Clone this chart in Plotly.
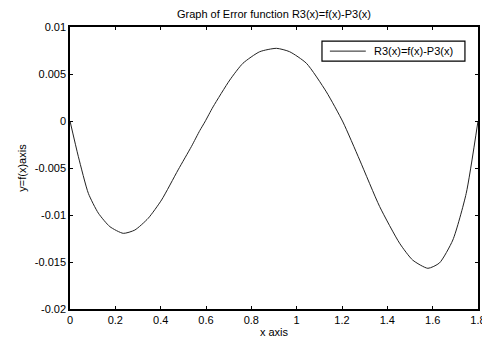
import plotly.graph_objects as go

x_vals = [0.0, 0.037, 0.081, 0.125, 0.176, 0.235, 0.286, 0.345, 0.404, 0.477, 0.536,
          0.573, 0.595, 0.631, 0.705, 0.763, 0.837, 0.911, 0.969, 1.043, 1.131, 1.204,
          1.278, 1.366, 1.454, 1.512, 1.579, 1.630, 1.689, 1.748, 1.8]
r3_vals = [0.0, -0.0038, -0.0077, -0.0098, -0.01124, -0.01195, -0.0116, -0.01035, -0.0084,
           -0.0052, -0.0027, -0.0010, -0.0001, 0.0015, 0.00436, 0.00614, 0.00737, 0.00773,
           0.00737, 0.00614, 0.0031, -0.0001, -0.00415, -0.0091, -0.0130, -0.0148, -0.01567,
           -0.0151, -0.01266, -0.0077, 0.0]

x_ticks = [0, 0.2, 0.4, 0.6, 0.8, 1, 1.2, 1.4, 1.6, 1.8]
x_tick_labels = ["0", "0.2", "0.4", "0.6", "0.8", "1", "1.2", "1.4", "1.6", "1.8"]
y_ticks = [-0.02, -0.015, -0.01, -0.005, 0, 0.005, 0.01]
y_tick_labels = ["-0.02", "-0.015", "-0.01", "-0.005", "0", "0.005", "0.01"]
series_name = "R3(x)=f(x)-P3(x)"

font = "Liberation Sans, Arial, sans-serif"

fig = go.Figure()
fig.add_trace(go.Scatter(x=x_vals, y=r3_vals, mode="lines",
                         line=dict(color="#222222", width=1, shape="spline", smoothing=0.6),
                         name=series_name, showlegend=False))

axis_common = dict(showgrid=False, zeroline=False, showline=True, linecolor="black", linewidth=1.5,
                   mirror="ticks", ticks="inside", ticklen=3, tickcolor="black", tickwidth=1,
                   ticklabeloverflow="allow", automargin=False,
                   tickfont=dict(family=font, size=11, color="black"))

# manual MATLAB-style legend box
fig.add_shape(type="rect", xref="paper", yref="paper", x0=0.6176, x1=0.968, y0=0.879, y1=0.950,
              line=dict(color="black", width=1.2), fillcolor="white", layer="above")
fig.add_shape(type="line", xref="paper", yref="paper", x0=0.637, x1=0.725, y0=0.9145, y1=0.9145,
              line=dict(color="#222222", width=1), layer="above")
fig.add_annotation(text=series_name, xref="paper", yref="paper", x=0.740, y=0.9145,
                   xanchor="left", yanchor="middle", showarrow=False,
                   font=dict(family=font, size=11, color="black"))

fig.update_layout(
    width=482, height=339,
    margin=dict(l=70, r=4, t=27, b=30, autoexpand=False),
    paper_bgcolor="white", plot_bgcolor="white",
    title=dict(text="Graph of Error function R3(x)=f(x)-P3(x)", x=(70 + 478) / 2 / 482, xanchor="center",
               y=1 - 14 / 339, yanchor="middle", font=dict(family=font, size=11, color="black")),
    xaxis=dict(range=[0, 1.8], tickvals=x_ticks, ticktext=x_tick_labels,
               title=dict(text="x axis", font=dict(family=font, size=11, color="black"), standoff=3),
               **axis_common),
    yaxis=dict(range=[-0.02, 0.01], tickvals=y_ticks, ticktext=y_tick_labels,
               title=dict(text="y=f(x)axis", font=dict(family=font, size=11, color="black"), standoff=6),
               **axis_common),
    showlegend=False,
)

fig.write_html("out.html")
